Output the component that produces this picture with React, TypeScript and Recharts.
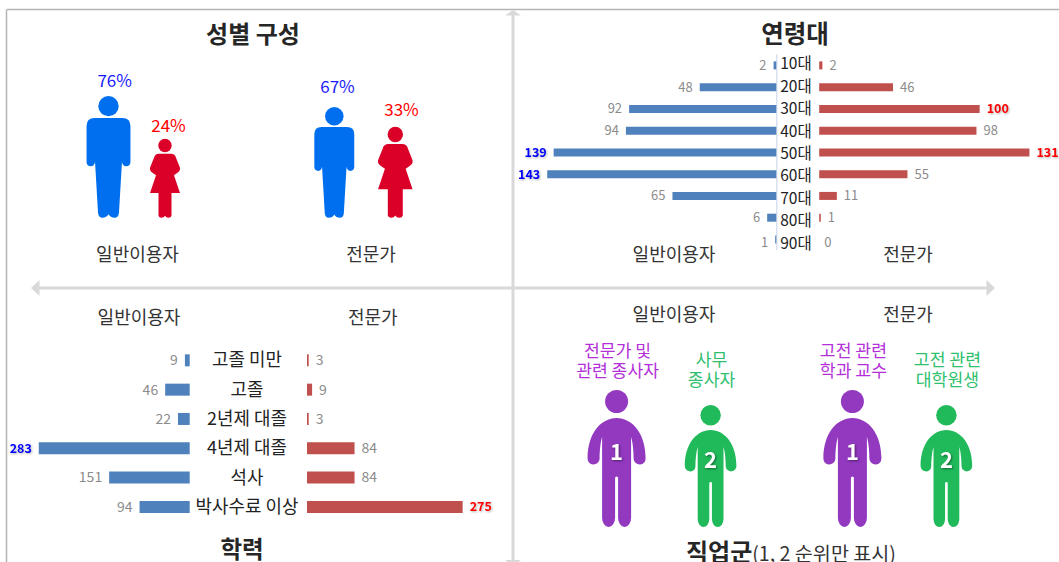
import React from "react";
import { BarChart, Bar, XAxis, YAxis, LabelList, ReferenceLine, ReferenceDot } from "recharts";

const PAGE_W = 1059;
const PAGE_H = 562;
const FONT = '"Noto Sans CJK KR", "Noto Sans", sans-serif';

const GENDER_GROUPS = ["일반이용자", "전문가"];
const GENDER_MALE = [76, 67];
const GENDER_FEMALE = [24, 33];

const AGE_LABELS = ["10대", "20대", "30대", "40대", "50대", "60대", "70대", "80대", "90대"];
const AGE_GENERAL = [2, 48, 92, 94, 139, 143, 65, 6, 1];
const AGE_EXPERT = [2, 46, 100, 98, 131, 55, 11, 1, 0];
const AGE_GENERAL_HIGHLIGHT = [139, 143];
const AGE_EXPERT_HIGHLIGHT = [100, 131];

const EDU_LABELS = ["고졸 미만", "고졸", "2년제 대졸", "4년제 대졸", "석사", "박사수료 이상"];
const EDU_GENERAL = [9, 46, 22, 283, 151, 94];
const EDU_EXPERT = [3, 9, 3, 84, 84, 275];
const EDU_GENERAL_HIGHLIGHT = [283];
const EDU_EXPERT_HIGHLIGHT = [275];

const JOB_GROUPS = ["일반이용자", "전문가"];
const JOB_RANK1_SIZE = [100, 100];
const JOB_RANK2_SIZE = [89, 89];
const JOB_RANK1_NAMES = [["전문가 및", "관련 종사자"], ["고전 관련", "학과 교수"]];
const JOB_RANK2_NAMES = [["사무", "종사자"], ["고전 관련", "대학원생"]];

const genderData = GENDER_GROUPS.map((group, i) => ({ group, male: GENDER_MALE[i], female: GENDER_FEMALE[i] }));
const ageData = AGE_LABELS.map((age, i) => ({ age, general: AGE_GENERAL[i], expert: AGE_EXPERT[i] }));
const eduData = EDU_LABELS.map((edu, i) => ({ edu, general: EDU_GENERAL[i], expert: EDU_EXPERT[i] }));
const jobData = JOB_GROUPS.map((group, i) => ({ group, rank1: JOB_RANK1_SIZE[i], rank2: JOB_RANK2_SIZE[i] }));

const BLUE_BAR = "#4f81bd";
const RED_BAR = "#c0504d";
const GENDER_FLOOR = 217.7;

const layer: React.CSSProperties = { position: "absolute", left: 0, top: 0 };

function Caption({ x, y, size = 18, bold = false, children }: any) {
  return (
    <div
      style={{
        position: "absolute",
        left: x,
        top: y,
        transform: "translate(-50%, -50%)",
        fontFamily: FONT,
        fontSize: size,
        fontWeight: bold ? 700 : 400,
        color: bold ? "#262626" : "#333",
        whiteSpace: "nowrap",
        lineHeight: 1,
      }}
    >
      {children}
    </div>
  );
}

// blue man, drawn in a 44x122 box
function ManShape({ x, y, width, index }: any) {
  const h = GENDER_FLOOR - y;
  const k = h / 122;
  const cx = x + width / 2 + [1.5, -0.7][index];
  return (
    <g transform={`translate(${cx - 22 * k},${y}) scale(${k})`} fill="#006fef">
      <circle cx={22} cy={10.2} r={10.2} />
      <path d="M8,22 H36 Q44,22 44,30 V66 Q44,70.5 39.7,70.5 Q36,70.5 35.5,66 L32.5,117 Q32,122 28,122 Q24,122 22,118.5 Q20,122 16,122 Q12,122 11.5,117 L8.5,66 Q8,70.5 4.3,70.5 Q0,70.5 0,66 V30 Q0,22 8,22 Z" />
    </g>
  );
}

// red woman, drawn in a 30x79 box
function WomanShape({ x, y, width, index }: any) {
  const h = GENDER_FLOOR - y;
  const k = h / 79;
  const cx = x + width / 2 + [-1, 1.3][index];
  return (
    <g transform={`translate(${cx - 15 * k},${y}) scale(${k})`} fill="#da0027">
      <circle cx={15} cy={6.7} r={6.7} />
      <path d="M9,15 H21 Q25,15 26,19 L30,29 Q30.5,32 27.5,34 L24,36.5 L30,54.3 H21.5 V77 Q21,79 18.5,79 Q16,79 15,77 Q14,79 11.5,79 Q9,79 8.5,77 V54.3 H0 L6,36.5 L2.5,34 Q-0.5,32 0,29 L4,19 Q5,15 9,15 Z" />
    </g>
  );
}

// occupation figure, drawn in a 58x137 box
function makePersonShape(color: string, rank: number) {
  return function PersonShape({ x, y, width, height }: any) {
    const k = height / 137;
    const cx = x + width / 2;
    return (
      <g>
        <g transform={`translate(${cx - 29 * k},${y}) scale(${k})`} fill={color}>
          <circle cx={29} cy={11.5} r={11.5} />
          <path d="M29,28 C45,28 58,44 58,68 A6,6 0 0 1 46,69 C46,60 45,52 43.5,47 V128 A6.5,9 0 0 1 30.5,128 V88 A1.5,1.5 0 0 0 27.5,88 V128 A6.5,9 0 0 1 14.5,128 V47 C13,52 12,60 12,69 A6,6 0 0 1 0,68 C0,44 13,28 29,28 Z" />
        </g>
        <text
          x={cx}
          y={y + height * 0.455}
          dy="0.35em"
          textAnchor="middle"
          fontFamily={FONT}
          fontSize={22}
          fontWeight={700}
          fill="#fff"
          style={{ filter: "drop-shadow(1px 1px 1px rgba(0,0,0,0.45))" }}
        >
          {rank}
        </text>
      </g>
    );
  };
}

// value labels beside the horizontal bars
function sideLabel(side: "left" | "right", highlight: number[], hotColor: string, size: number, hotSize: number, lastRowDrop = 0, lastRow = -1) {
  return function SideLabel(props: any) {
    const vb = props.viewBox ?? props;
    const hot = highlight.includes(Number(props.value));
    const edge = side === "left" ? Math.min(vb.x, vb.x + vb.width) - 7 : Math.max(vb.x, vb.x + vb.width) + 7;
    return (
      <text
        x={edge}
        y={vb.y + vb.height / 2 + (props.index === lastRow ? lastRowDrop : 0)}
        dy="0.35em"
        textAnchor={side === "left" ? "end" : "start"}
        fontFamily={FONT}
        fontSize={hot ? hotSize : size}
        fontWeight={hot ? 700 : 400}
        fill={hot ? hotColor : "#8c8c8c"}
        style={hot ? { filter: "drop-shadow(1px 1px 1px rgba(0,0,0,0.3))" } : undefined}
      >
        {props.value}
      </text>
    );
  };
}

function percentLabel(color: string, gaps: number[], shifts: number[]) {
  return function PercentLabel(props: any) {
    const vb = props.viewBox ?? props;
    return (
      <text
        x={vb.x + vb.width / 2 + shifts[props.index]}
        y={vb.y - gaps[props.index]}
        dy="0.35em"
        textAnchor="middle"
        fontFamily={FONT}
        fontSize={17}
        fill={color}
      >
        {props.value}%
      </text>
    );
  };
}

function jobLabel(names: string[][], color: string, gap: number) {
  return function JobLabel(props: any) {
    const vb = props.viewBox ?? props;
    const lines = names[props.index];
    return (
      <text textAnchor="middle" fontFamily={FONT} fontSize={17.2} fill={color}>
        {lines.map((line, i) => (
          <tspan key={line} x={vb.x + vb.width / 2 + 1} y={vb.y - gap - (lines.length - 1 - i) * 20} dy="0.35em">
            {line}
          </tspan>
        ))}
      </text>
    );
  };
}

function CategoryTick({ y, payload, index, cx, size, drift = 0, lift = 0 }: any) {
  return (
    <text x={cx} y={y + index * drift - lift} dy="0.35em" textAnchor="middle" fontFamily={FONT} fontSize={size} fill="#222">
      {payload.value}
    </text>
  );
}

function Frame() {
  return (
    <svg width={PAGE_W} height={PAGE_H} style={layer}>
      <line x1={7} y1={9.5} x2={PAGE_W} y2={9.5} stroke="#b4b4b4" strokeWidth={1.5} />
      <line x1={6.5} y1={9.5} x2={6.5} y2={PAGE_H} stroke="#b4b4b4" strokeWidth={1.5} />
      <line x1={513} y1={12} x2={513} y2={PAGE_H} stroke="#d9d9d9" strokeWidth={3} />
      <line x1={36} y1={288} x2={990} y2={288} stroke="#d9d9d9" strokeWidth={3} />
      <polygon points="505,15.5 513,10 521,15.5" fill="#d9d9d9" />
      <polygon points="505,560 513,566 521,560" fill="#d9d9d9" />
      <polygon points="31,288 39.5,280 39.5,296" fill="#d9d9d9" />
      <polygon points="995,288 986.5,280 986.5,296" fill="#d9d9d9" />
    </svg>
  );
}

export default function App() {
  return (
    <div style={{ position: "absolute", left: 0, top: 0, width: PAGE_W, height: PAGE_H, overflow: "hidden", background: "#fff" }}>
      <Frame />

      {/* 성별 구성 */}
      <BarChart
        style={layer}
        width={PAGE_W}
        height={PAGE_H}
        data={genderData}
        margin={{ top: 60, left: 22.5, right: PAGE_W - 478.5, bottom: PAGE_H - GENDER_FLOOR }}
        barSize={59}
        barGap={0}
      >
        <XAxis dataKey="group" hide />
        <YAxis yAxisId="male" hide domain={[-23.8, 105.5]} />
        <YAxis yAxisId="female" hide domain={[-35.3, 83.2]} />
        <Bar yAxisId="male" dataKey="male" isAnimationActive={false} shape={ManShape}>
          <LabelList dataKey="male" content={percentLabel("#1a1aff", [15, 20], [7.7, 2.5])} />
        </Bar>
        <Bar yAxisId="female" dataKey="female" isAnimationActive={false} shape={WomanShape}>
          <LabelList dataKey="female" content={percentLabel("#ff0000", [13, 17], [2.5, 7.5])} />
        </Bar>
      </BarChart>

      {/* 연령대 */}
      <BarChart
        style={layer}
        width={PAGE_W}
        height={PAGE_H}
        layout="vertical"
        data={ageData}
        margin={{ top: 54.4, left: 536, right: PAGE_W - 776.8, bottom: PAGE_H - 250.2 }}
        barSize={8}
      >
        <XAxis type="number" hide reversed domain={[0, 150]} />
        <YAxis type="category" dataKey="age" hide />
        <ReferenceLine x={0} stroke="#c6d4e8" strokeWidth={1} />
        <Bar dataKey="general" fill={BLUE_BAR} isAnimationActive={false}>
          <LabelList dataKey="general" content={sideLabel("left", AGE_GENERAL_HIGHLIGHT, "#0000ff", 13, 12.5, 3.5, 8)} />
        </Bar>
      </BarChart>
      <BarChart
        style={layer}
        width={PAGE_W}
        height={PAGE_H}
        layout="vertical"
        data={ageData}
        margin={{ top: 54.4, left: 778, right: 0.7, bottom: PAGE_H - 250.2 }}
        barSize={8}
      >
        <XAxis type="number" hide domain={[0, 149]} />
        <YAxis
          type="category"
          dataKey="age"
          width={41.2}
          axisLine={false}
          tickLine={false}
          interval={0}
          tick={<CategoryTick cx={796} size={15.5} drift={0.65} lift={1.3} />}
        />
        <Bar dataKey="expert" fill={RED_BAR} isAnimationActive={false}>
          <LabelList dataKey="expert" content={sideLabel("right", AGE_EXPERT_HIGHLIGHT, "#ff0000", 13, 12.5, 3.5, 8)} />
        </Bar>
        {/* a zero-width bar gets no label from LabelList */}
        {ageData
          .filter((d) => d.expert === 0)
          .map((d) => (
            <ReferenceDot
              key={d.age}
              x={0}
              y={d.age}
              r={0}
              fill="none"
              stroke="none"
              label={{ value: "0", position: "right", offset: 5, dy: 3.5, fill: "#8c8c8c", fontSize: 13, fontFamily: FONT }}
            />
          ))}
      </BarChart>

      {/* 학력 */}
      <BarChart
        style={layer}
        width={PAGE_W}
        height={PAGE_H}
        layout="vertical"
        data={eduData}
        margin={{ top: 345.35, left: 29.7, right: PAGE_W - 189.7, bottom: PAGE_H - 521.2 }}
        barSize={12}
      >
        <XAxis type="number" hide reversed domain={[0, 300]} />
        <YAxis type="category" dataKey="edu" hide />
        <Bar dataKey="general" fill={BLUE_BAR} isAnimationActive={false}>
          <LabelList dataKey="general" content={sideLabel("left", EDU_GENERAL_HIGHLIGHT, "#0000ff", 14, 12.5)} />
        </Bar>
      </BarChart>
      <BarChart
        style={layer}
        width={PAGE_W}
        height={PAGE_H}
        layout="vertical"
        data={eduData}
        margin={{ top: 345.35, left: 190, right: PAGE_W - 476.8, bottom: PAGE_H - 521.2 }}
        barSize={12}
      >
        <XAxis type="number" hide domain={[0, 300]} />
        <YAxis
          type="category"
          dataKey="edu"
          width={117}
          axisLine={false}
          tickLine={false}
          interval={0}
          tick={<CategoryTick cx={247} size={17.9} />}
        />
        <Bar dataKey="expert" fill={RED_BAR} isAnimationActive={false}>
          <LabelList dataKey="expert" content={sideLabel("right", EDU_EXPERT_HIGHLIGHT, "#ff0000", 14, 12.5)} />
        </Bar>
      </BarChart>

      {/* 직업군 */}
      <BarChart
        style={layer}
        width={PAGE_W}
        height={PAGE_H}
        data={jobData}
        margin={{ top: 340, left: 545.6, right: PAGE_W - 1017.2, bottom: PAGE_H - 527 }}
        barSize={94}
        barGap={0}
      >
        <XAxis dataKey="group" hide />
        <YAxis hide domain={[0, 136.5]} />
        <Bar dataKey="rank1" isAnimationActive={false} shape={makePersonShape("#9239c0", 1)}>
          <LabelList dataKey="rank1" content={jobLabel(JOB_RANK1_NAMES, "#b32fd8", 19)} />
        </Bar>
        <Bar dataKey="rank2" isAnimationActive={false} shape={makePersonShape("#21ba5b", 2)}>
          <LabelList dataKey="rank2" content={jobLabel(JOB_RANK2_NAMES, "#2fc06e", 25)} />
        </Bar>
      </BarChart>

      <Caption x={253} y={33} size={24} bold>성별 구성</Caption>
      <Caption x={795} y={33} size={24.5} bold>연령대</Caption>
      <Caption x={242} y={549} size={23.5} bold>학력</Caption>
      <div style={{ position: "absolute", left: 686, top: 551, transform: "translateY(-50%)", fontFamily: FONT, whiteSpace: "nowrap", lineHeight: 1, color: "#333" }}>
        <span style={{ fontSize: 24, fontWeight: 700, color: "#262626" }}>직업군</span>
        <span style={{ fontSize: 19.6 }}>(1, 2 순위만 표시)</span>
      </div>

      <Caption x={137.5} y={252.5}>일반이용자</Caption>
      <Caption x={371} y={252.5}>전문가</Caption>
      <Caption x={674} y={252.5}>일반이용자</Caption>
      <Caption x={908} y={252.5}>전문가</Caption>
      <Caption x={139} y={315.5}>일반이용자</Caption>
      <Caption x={372.8} y={315.5}>전문가</Caption>
      <Caption x={674} y={312.5}>일반이용자</Caption>
      <Caption x={908} y={312.5}>전문가</Caption>
    </div>
  );
}
